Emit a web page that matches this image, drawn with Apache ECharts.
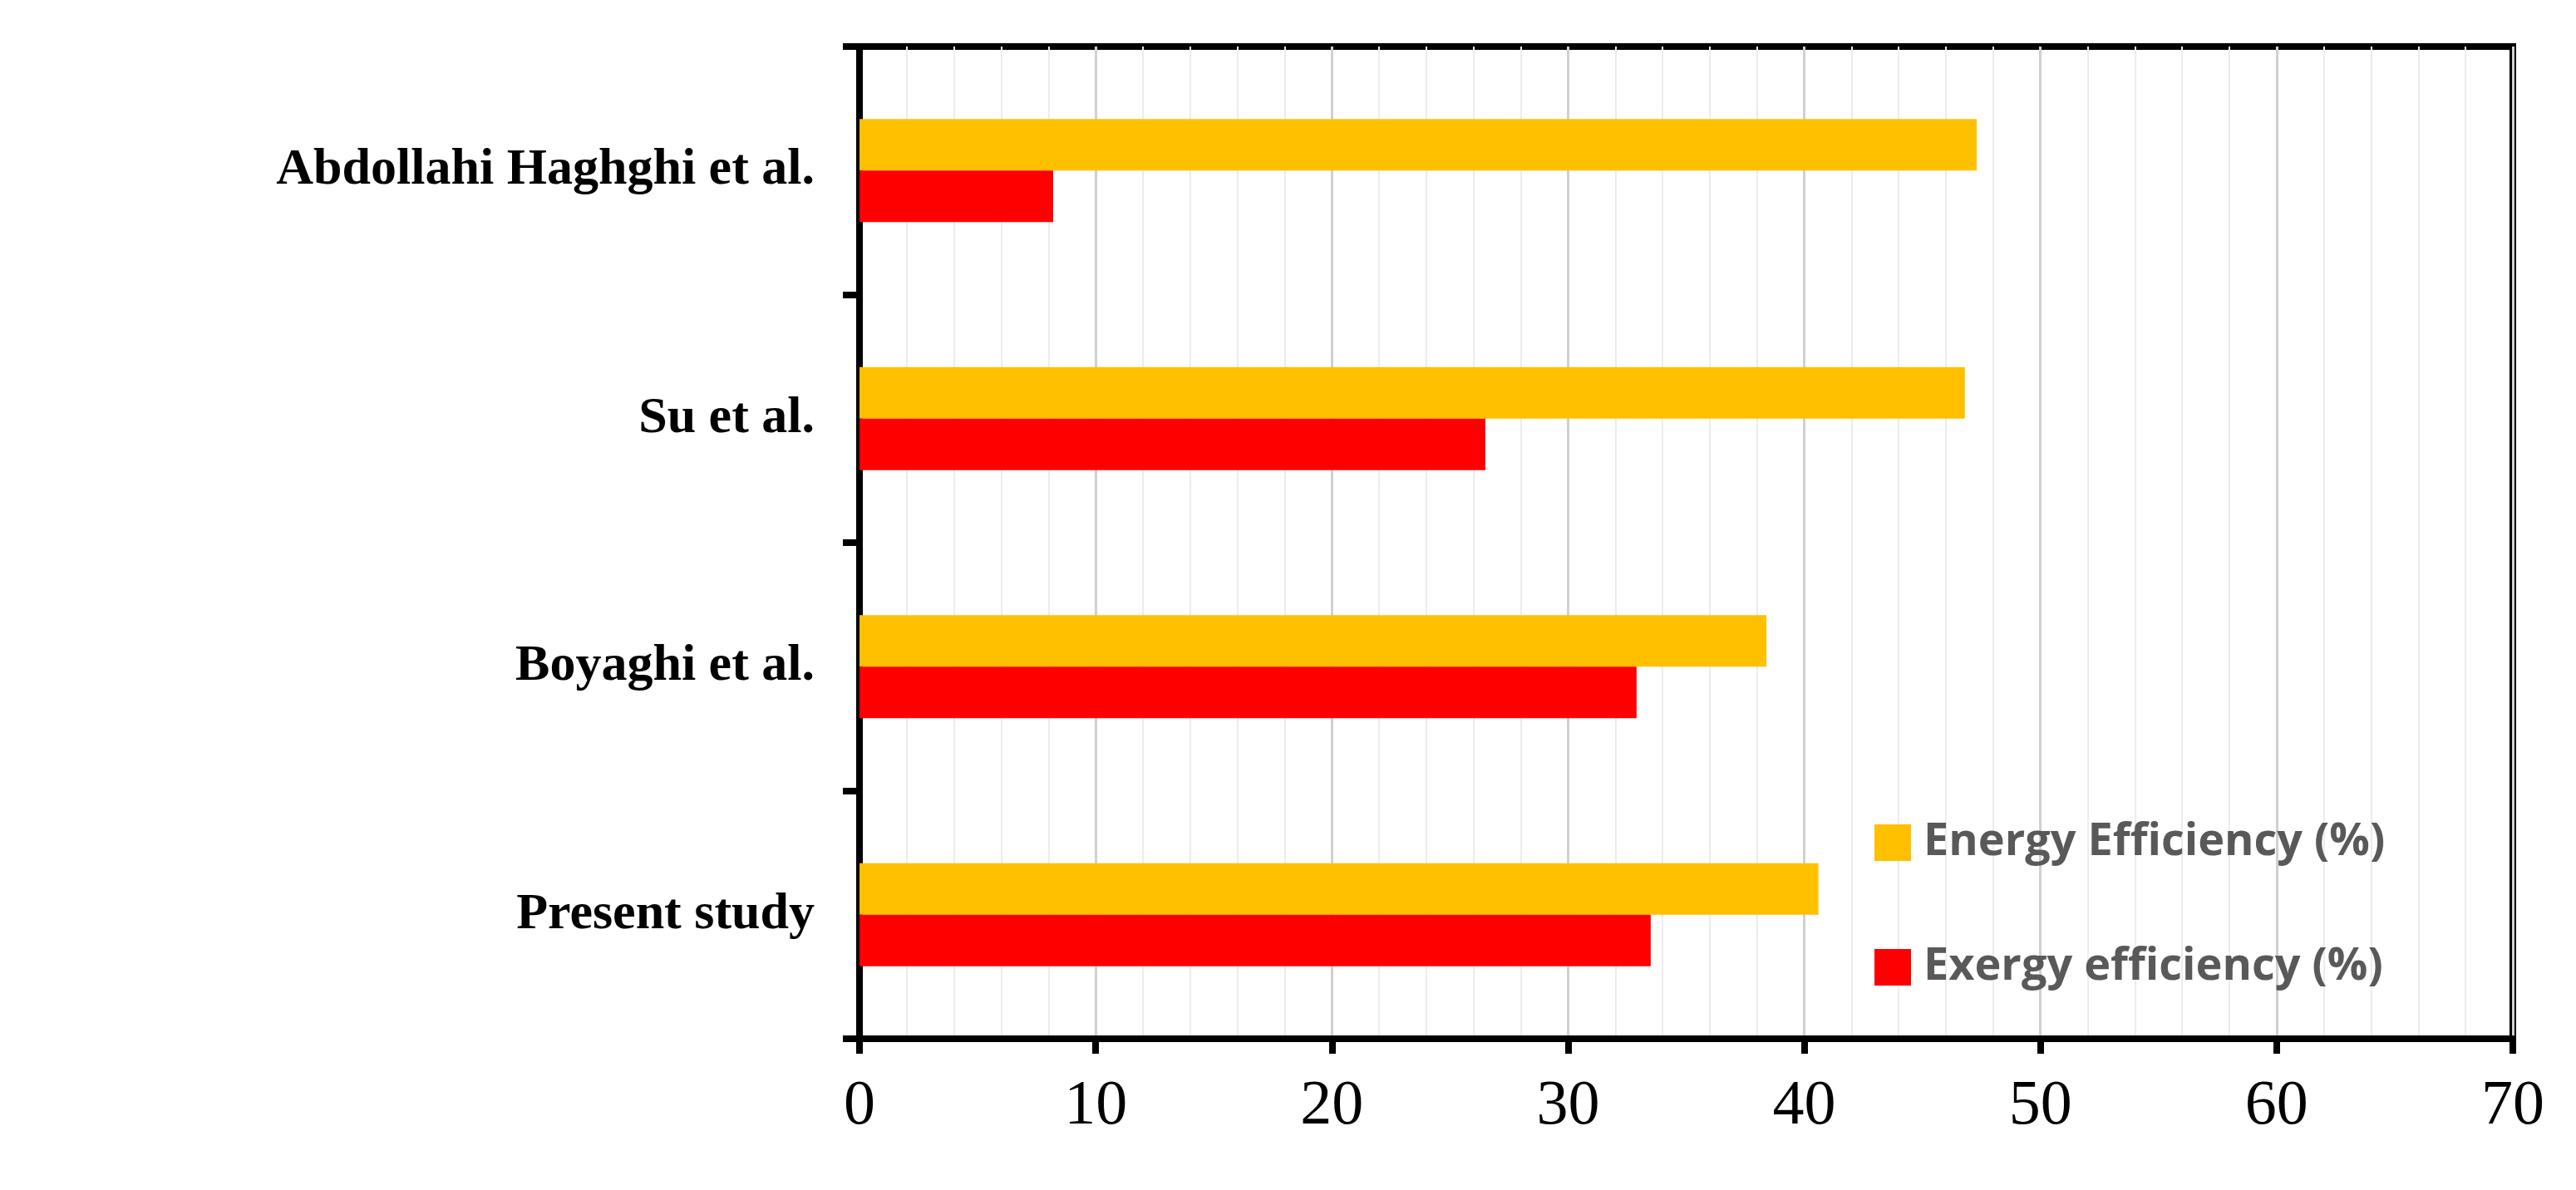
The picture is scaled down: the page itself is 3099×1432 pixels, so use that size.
<!DOCTYPE html>
<html>
<head>
<meta charset="utf-8">
<script src="https://cdn.jsdelivr.net/npm/echarts@6/dist/echarts.min.js"></script>
<style>html,body{margin:0;height:100%;background:#fff}#main{width:3099px;height:1432px}</style>
</head>
<body>
<div id="main"></div>
<script>
var categories = ['Present study', 'Boyaghi et al.', 'Su et al.', 'Abdollahi Haghghi et al.'];
var energy = [40.6, 38.4, 46.8, 47.3];
var exergy = [33.5, 32.9, 26.5, 8.2];

var chart = echarts.init(document.getElementById('main'));
chart.setOption({
  animation: false,
  grid: { left: 1034, right: 76, top: 56, bottom: 182, show: true, borderColor: '#000', borderWidth: 8 },
  legend: {
    data: ['Energy Efficiency (%)', 'Exergy efficiency (%)'],
    orient: 'vertical', left: 2250, top: 982,
    icon: 'rect', itemWidth: 44, itemHeight: 44, itemGap: 96,
    textStyle: { fontFamily: 'Open Sans', fontWeight: 'bold', fontSize: 54, color: '#595959', padding: [0, 0, 0, 10] }
  },
  xAxis: {
    type: 'value', min: 0, max: 70, interval: 10,
    axisLine: { show: true, lineStyle: { color: '#000', width: 8 } },
    axisTick: { show: true, length: 18, lineStyle: { color: '#000', width: 8 } },
    axisLabel: { fontFamily: 'Liberation Serif', fontSize: 76, color: '#000', margin: 44 },
    splitLine: { lineStyle: { color: '#d0d0d0', width: 3 } },
    minorTick: { show: false, splitNumber: 5 },
    minorSplitLine: { show: true, lineStyle: { color: '#ececec', width: 2 } }
  },
  yAxis: {
    type: 'category', data: categories,
    axisLine: { lineStyle: { color: '#000', width: 8 } },
    axisTick: { show: true, alignWithLabel: false, length: 20, lineStyle: { color: '#000', width: 8 } },
    axisLabel: { fontFamily: 'Liberation Serif', fontWeight: 'bold', fontSize: 62, color: '#000', margin: 54 }
  },
  series: [
    { name: 'Energy Efficiency (%)', type: 'bar', data: energy, barWidth: 62, barGap: '0%', itemStyle: { color: '#ffc000' } },
    { name: 'Exergy efficiency (%)', type: 'bar', data: exergy, barWidth: 62, barGap: '0%', itemStyle: { color: '#ff0000' } }
  ]
});
</script>
</body>
</html>
